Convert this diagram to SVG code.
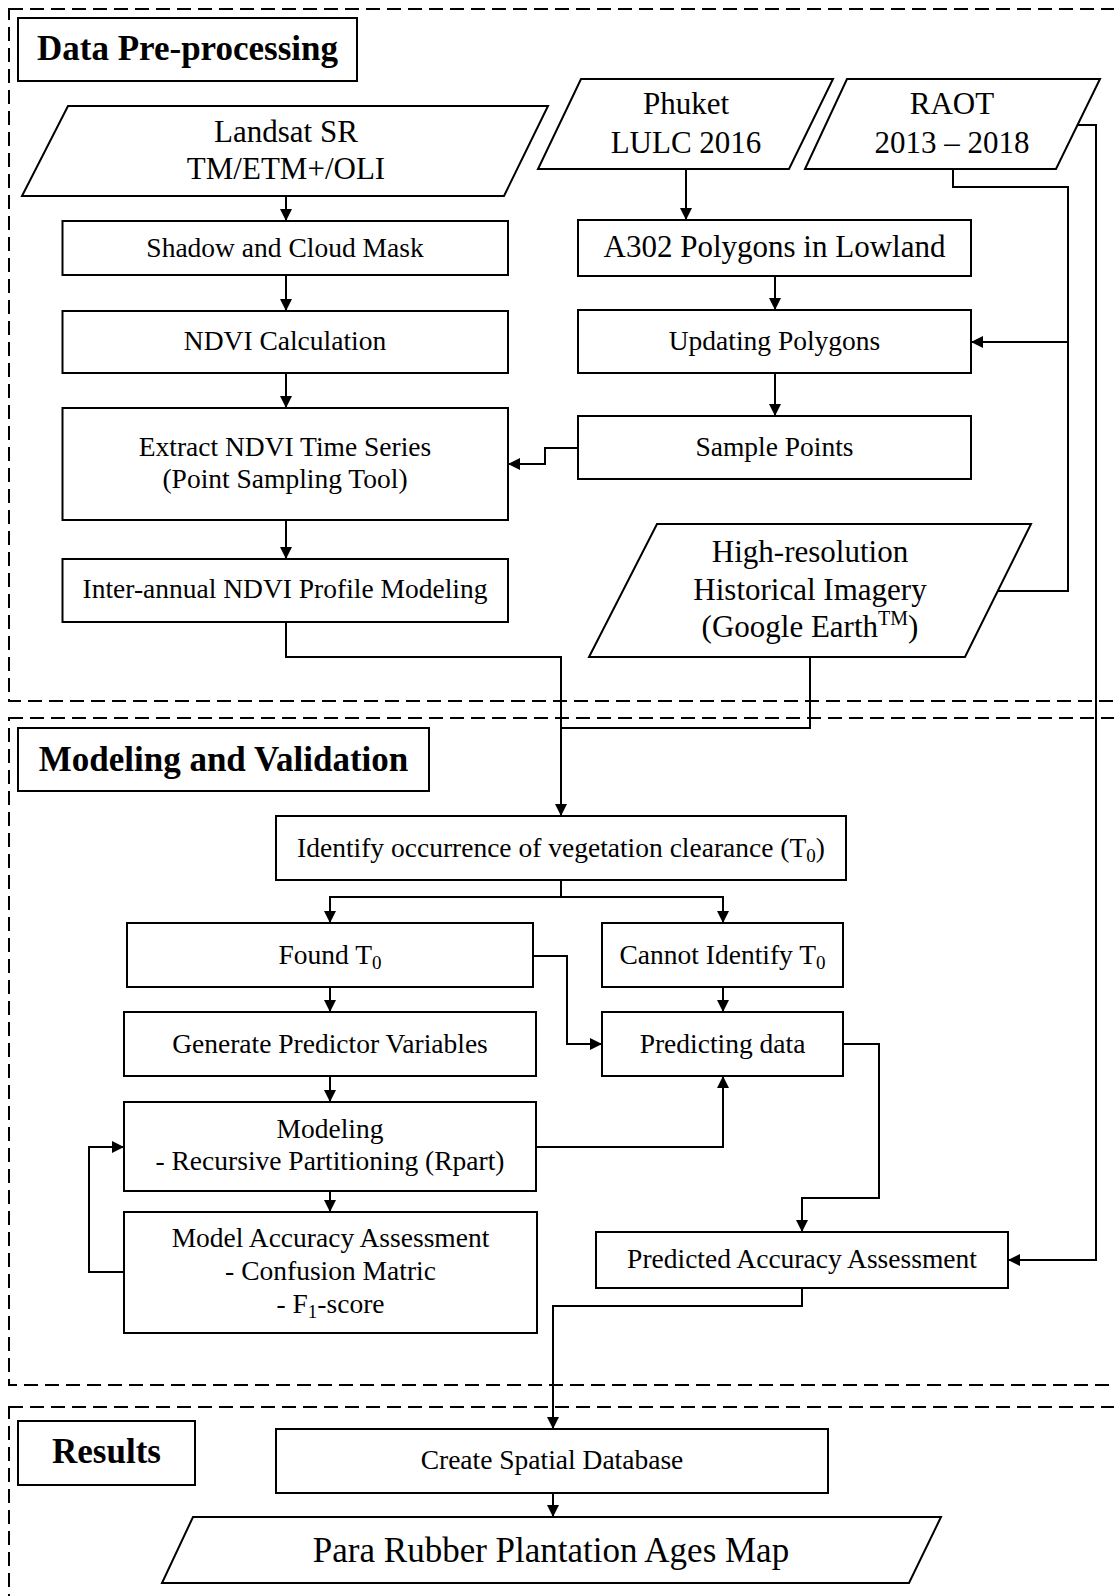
<svg xmlns="http://www.w3.org/2000/svg" width="1114" height="1596" viewBox="0 0 1114 1596">
  <style>
    .bg { fill: #ffffff; }
    .panel { fill: none; stroke: #000; stroke-width: 2; stroke-dasharray: 14 7; }
    .box { fill: #ffffff; stroke: #000; stroke-width: 2; }
    .conn { fill: none; stroke: #000; stroke-width: 2; }
    text { font-family: "Liberation Serif", "Times New Roman", serif; fill: #000; text-anchor: middle; }
    .t { font-size: 27.5px; }
    .tl { font-size: 31px; }
    .tx { font-size: 35px; }
    .title { font-size: 35px; font-weight: bold; }
  </style>
  <defs>
    <marker id="arrow" markerUnits="userSpaceOnUse" markerWidth="12" markerHeight="12" refX="12" refY="6" orient="auto">
      <path d="M0,0 L12,6 L0,12 Z" fill="#000"/>
    </marker>
  </defs>

  <rect class="bg" x="0" y="0" width="1114" height="1596"/>

  <!-- section panels -->
  <g id="panels">
    <rect class="panel" x="9" y="9" width="1130" height="692"/>
    <rect class="panel" x="9" y="718" width="1130" height="667"/>
    <rect class="panel" x="9" y="1407" width="1130" height="220"/>
  </g>

  <!-- connectors -->
  <g id="connectors">
    <path class="conn" d="M286,196 V221" marker-end="url(#arrow)"/>
    <path class="conn" d="M286,275 V311" marker-end="url(#arrow)"/>
    <path class="conn" d="M286,373 V408" marker-end="url(#arrow)"/>
    <path class="conn" d="M286,520 V559" marker-end="url(#arrow)"/>
    <path class="conn" d="M686,169 V220" marker-end="url(#arrow)"/>
    <path class="conn" d="M775,276 V310" marker-end="url(#arrow)"/>
    <path class="conn" d="M775,373 V416" marker-end="url(#arrow)"/>
    <path class="conn" d="M578,448 H545 V464 H508" marker-end="url(#arrow)"/>
    <path class="conn" d="M953,169 V187 H1068 V342 H971" marker-end="url(#arrow)"/>
    <path class="conn" d="M998,591 H1068 V342"/>
    <path class="conn" d="M1078,125 H1096 V1260 H1008" marker-end="url(#arrow)"/>
    <path class="conn" d="M286,622 V657 H561 V816" marker-end="url(#arrow)"/>
    <path class="conn" d="M810,657 V728 H561"/>
    <path class="conn" d="M561,880 V897 H330 V923" marker-end="url(#arrow)"/>
    <path class="conn" d="M561,897 H723 V923" marker-end="url(#arrow)"/>
    <path class="conn" d="M330,987 V1012" marker-end="url(#arrow)"/>
    <path class="conn" d="M723,987 V1012" marker-end="url(#arrow)"/>
    <path class="conn" d="M533,956 H567 V1044 H602" marker-end="url(#arrow)"/>
    <path class="conn" d="M330,1076 V1102" marker-end="url(#arrow)"/>
    <path class="conn" d="M330,1191 V1212" marker-end="url(#arrow)"/>
    <path class="conn" d="M124,1272 H89 V1147 H124" marker-end="url(#arrow)"/>
    <path class="conn" d="M536,1147 H723 V1076" marker-end="url(#arrow)"/>
    <path class="conn" d="M843,1044 H879 V1198 H802 V1232" marker-end="url(#arrow)"/>
    <path class="conn" d="M802,1288 V1306 H553 V1429" marker-end="url(#arrow)"/>
    <path class="conn" d="M553,1493 V1517" marker-end="url(#arrow)"/>
  </g>

  <!-- section titles -->
  <g id="title-preprocessing">
    <rect class="box" x="18" y="18" width="339" height="63"/>
    <text class="title" x="187.5" y="60">Data Pre-processing</text>
  </g>
  <g id="title-modeling">
    <rect class="box" x="18" y="728" width="411" height="63"/>
    <text class="title" x="223.5" y="771">Modeling and Validation</text>
  </g>
  <g id="title-results">
    <rect class="box" x="18" y="1421" width="177" height="64"/>
    <text class="title" x="106.5" y="1463">Results</text>
  </g>

  <!-- data pre-processing nodes -->
  <g id="landsat">
    <polygon class="box" points="68,106 548,106 504,196 22,196"/>
    <text class="tl" x="286" y="142">Landsat SR</text>
    <text class="tl" x="286" y="179">TM/ETM+/OLI</text>
  </g>
  <g id="phuket">
    <polygon class="box" points="581,79 833,79 789,169 538,169"/>
    <text class="tl" x="686" y="114">Phuket</text>
    <text class="tl" x="686" y="153">LULC 2016</text>
  </g>
  <g id="raot">
    <polygon class="box" points="847,79 1100,79 1056,169 805,169"/>
    <text class="tl" x="952" y="114">RAOT</text>
    <text class="tl" x="952" y="153">2013 – 2018</text>
  </g>
  <g id="shadow-cloud-mask">
    <rect class="box" x="62.5" y="221" width="445.5" height="54"/>
    <text class="t" x="285" y="257">Shadow and Cloud Mask</text>
  </g>
  <g id="ndvi-calculation">
    <rect class="box" x="62.5" y="311" width="445.5" height="62"/>
    <text class="t" x="285" y="350">NDVI Calculation</text>
  </g>
  <g id="extract-ndvi">
    <rect class="box" x="62.5" y="408" width="445.5" height="112"/>
    <text class="t" x="285" y="456">Extract NDVI Time Series</text>
    <text class="t" x="285" y="488">(Point Sampling Tool)</text>
  </g>
  <g id="ndvi-profile">
    <rect class="box" x="62.5" y="559" width="445.5" height="63"/>
    <text class="t" x="285" y="598">Inter-annual NDVI Profile Modeling</text>
  </g>
  <g id="a302-polygons">
    <rect class="box" x="578" y="220" width="393" height="56"/>
    <text class="tl" x="774.5" y="257">A302 Polygons in Lowland</text>
  </g>
  <g id="updating-polygons">
    <rect class="box" x="578" y="310" width="393" height="63"/>
    <text class="t" x="774.5" y="350">Updating Polygons</text>
  </g>
  <g id="sample-points">
    <rect class="box" x="578" y="416" width="393" height="63"/>
    <text class="t" x="774.5" y="456">Sample Points</text>
  </g>
  <g id="high-res-imagery">
    <polygon class="box" points="657,524 1031,524 965,657 589,657"/>
    <text class="tl" x="810" y="562">High-resolution</text>
    <text class="tl" x="810" y="600">Historical Imagery</text>
    <text class="tl" x="810" y="637">(Google Earth<tspan font-size="20" dy="-12">TM</tspan><tspan dy="12">)</tspan></text>
  </g>

  <!-- modeling and validation nodes -->
  <g id="identify-t0">
    <rect class="box" x="276" y="816" width="570" height="64"/>
    <text class="t" x="561" y="857">Identify occurrence of vegetation clearance (T<tspan font-size="19" dy="5">0</tspan><tspan dy="-5">)</tspan></text>
  </g>
  <g id="found-t0">
    <rect class="box" x="127" y="923" width="406" height="64"/>
    <text class="t" x="330" y="964">Found T<tspan font-size="19" dy="5">0</tspan></text>
  </g>
  <g id="cannot-identify-t0">
    <rect class="box" x="602" y="923" width="241" height="64"/>
    <text class="t" x="722.5" y="964">Cannot Identify T<tspan font-size="19" dy="5">0</tspan></text>
  </g>
  <g id="generate-predictors">
    <rect class="box" x="124" y="1012" width="412" height="64"/>
    <text class="t" x="330" y="1053">Generate Predictor Variables</text>
  </g>
  <g id="predicting-data">
    <rect class="box" x="602" y="1012" width="241" height="64"/>
    <text class="t" x="722.5" y="1053">Predicting data</text>
  </g>
  <g id="modeling-rpart">
    <rect class="box" x="124" y="1102" width="412" height="89"/>
    <text class="t" x="330" y="1138">Modeling</text>
    <text class="t" x="330" y="1170">- Recursive Partitioning (Rpart)</text>
  </g>
  <g id="model-accuracy">
    <rect class="box" x="124" y="1212" width="413" height="121"/>
    <text class="t" x="330.5" y="1247">Model Accuracy Assessment</text>
    <text class="t" x="330.5" y="1280">- Confusion Matric</text>
    <text class="t" x="330.5" y="1313">- F<tspan font-size="19" dy="5">1</tspan><tspan dy="-5">-score</tspan></text>
  </g>
  <g id="predicted-accuracy">
    <rect class="box" x="596" y="1232" width="412" height="56"/>
    <text class="t" x="802" y="1268">Predicted Accuracy Assessment</text>
  </g>

  <!-- results nodes -->
  <g id="spatial-database">
    <rect class="box" x="276" y="1429" width="552" height="64"/>
    <text class="t" x="552" y="1469">Create Spatial Database</text>
  </g>
  <g id="ages-map">
    <polygon class="box" points="193,1517 941,1517 909,1583 162,1583"/>
    <text class="tx" x="551" y="1562">Para Rubber Plantation Ages Map</text>
  </g>
</svg>
